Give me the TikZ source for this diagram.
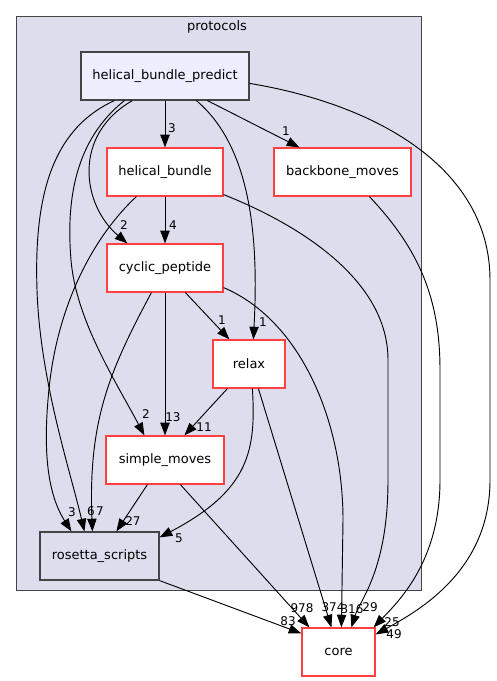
\documentclass[tikz,border=0pt]{standalone}
\usepackage{fontspec}
\setmainfont{DejaVu Sans}
\usetikzlibrary{arrows.meta,calc}
\definecolor{clfill}{HTML}{DDDDEE}
\definecolor{clline}{HTML}{444444}
\definecolor{rootfill}{HTML}{EEEEFF}
\definecolor{redline}{HTML}{FF4040}
\tikzset{
  dirbox/.style={draw=redline, fill=white, line width=0.9pt, inner sep=0pt,
    minimum height=48*0.75pt, font=\fontsize{9.75}{11}\selectfont},
  rootbox/.style={dirbox, draw=clline, fill=rootfill},
  plainbox/.style={dirbox, draw=clline, fill=clfill},
  clusterbox/.style={draw=clline, fill=clfill, line width=0.9pt, inner sep=0pt, anchor=north west},
  dep/.style={draw=black, line width=0.7pt, -{Triangle[length=9.5pt,width=7pt]}},
  lab/.style={font=\fontsize{9}{10}\selectfont, inner sep=0pt},
  ttl/.style={font=\fontsize{9.75}{11}\selectfont, inner sep=0pt}
}
\begin{document}
\begin{tikzpicture}[x=0.75pt,y=-0.75pt]
\useasboundingbox (0,0) rectangle (496,681);
% cluster
\node[clusterbox, minimum width=405*0.75pt, minimum height=574*0.75pt] (cl) at (16,16) {};
\node[ttl] (cltitle) at (217,27) {protocols};
% nodes
\node[rootbox, minimum width=168*0.75pt] (hbp) at (165,76) {helical\_bundle\_predict};
\node[dirbox, minimum width=116*0.75pt] (hb) at (165,172) {helical\_bundle};
\node[dirbox, minimum width=137*0.75pt] (bm) at (342.5,172) {backbone\_moves};
\node[dirbox, minimum width=116*0.75pt] (cp) at (165,268) {cyclic\_peptide};
\node[dirbox, minimum width=72*0.75pt] (rel) at (249,364) {relax};
\node[dirbox, minimum width=118*0.75pt] (sm) at (165,460) {simple\_moves};
\node[plainbox, minimum width=119*0.75pt] (rs) at (99.5,556) {rosetta\_scripts};
\node[dirbox, minimum width=73*0.75pt] (core) at (338.5,652) {core};

% edges from helical_bundle_predict
\draw[dep] (hbp.south) -- (hb.north);
\node[lab] (l1) at (172,128) {3};
\draw[dep] ($(hbp.south west)+(127,0)$) -- ($(bm.north west)+(26,0)$);
\node[lab] (l2) at (286,131) {1};
\draw[dep] ($(hbp.south west)+(52,0)$) .. controls (72,135) and (82,205) .. ($(cp.north west)+(21,0)$);
\node[lab] (l3) at (124,225) {2};
\draw[dep] ($(hbp.south west)+(116,0)$) .. controls (255,150) and (258,250) .. ($(rel.north west)+(41,0)$);
\node[lab] (l4) at (263,322) {1};
\draw[dep] ($(hbp.south west)+(44,0)$) .. controls (75,140) and (66,200) .. (71,260)
  .. controls (76,320) and (115,380) .. ($(sm.north west)+(39,0)$);
\node[lab] (l5) at (146,414) {2};
\draw[dep] ($(hbp.south west)+(34,0)$) .. controls (50,130) and (34,200) .. (37,290)
  .. controls (40,380) and (70,470) .. ($(rs.north west)+(45,0)$);
\node[lab] (l6) at (91,511) {6};
\draw[dep] ($(hbp.north east)+(0,32)$) .. controls (380,105) and (490,170) .. (490,280)
  -- (490,480) .. controls (490,570) and (420,610) .. ($(core.north east)+(0,7)$);
\node[lab] (l7) at (394,634) {49};

% helical_bundle
\draw[dep] (hb.south) -- (cp.north);
\node[lab] (l8) at (173,225) {4};
\draw[dep] ($(hb.south west)+(30,0)$) .. controls (95,235) and (60,300) .. (50,380)
  .. controls (43,440) and (45,490) .. ($(rs.north west)+(32,0)$);
\node[lab] (l9) at (72,512) {3};
\draw[dep] ($(hb.south east)+(0,-2)$) .. controls (300,225) and (388,280) .. (388,360)
  -- (388,480) .. controls (388,570) and (360,600) .. ($(core.north west)+(50,0)$);
\node[lab] (l10) at (370,607) {29};

% backbone_moves
\draw[dep] ($(bm.south west)+(96,0)$) .. controls (420,250) and (440,300) .. (440,370)
  -- (440,480) .. controls (440,560) and (400,600) .. ($(core.north east)+(-2,0)$);
\node[lab] (l11) at (392,622) {25};

% cyclic_peptide
\draw[dep] ($(cp.south west)+(79,0)$) -- ($(rel.north west)+(17,0)$);
\node[lab] (l12) at (222,320) {1};
\draw[dep] (cp.south) -- (sm.north);
\node[lab] (l13) at (173,417) {13};
\draw[dep] ($(cp.south west)+(45,0)$) .. controls (110,370) and (88,420) .. ($(rs.north west)+(53,0)$);
\node[lab] (l14) at (100,511) {7};
\draw[dep] ($(cp.south east)+(0,-5)$) .. controls (300,320) and (343,420) .. (343,520)
  -- ($(core.north west)+(40,0)$);
\node[lab] (l15) at (352,609) {316};

% relax
\draw[dep] ($(rel.south west)+(15,0)$) -- ($(sm.north west)+(79,0)$);
\node[lab] (l16) at (204,427) {11};
\draw[dep] ($(rel.south west)+(40,0)$) .. controls (256,450) and (250,490) .. ($(rs.north east)+(0,6)$);
\node[lab] (l17) at (179,538) {5};
\draw[dep] ($(rel.south west)+(46,0)$) -- ($(core.north west)+(30,0)$);
\node[lab] (l18) at (333,607) {374};

% simple_moves
\draw[dep] ($(sm.south west)+(42,0)$) -- ($(rs.north west)+(77,0)$);
\node[lab] (l19) at (133,521) {27};
\draw[dep] ($(sm.south west)+(75,0)$) -- ($(core.north west)+(8,0)$);
\node[lab] (l20) at (302,608) {978};

% rosetta_scripts
\draw[dep] (rs.south east) -- ($(core.north west)+(0,6)$);
\node[lab] (l21) at (288,621) {83};
\end{tikzpicture}
\end{document}
